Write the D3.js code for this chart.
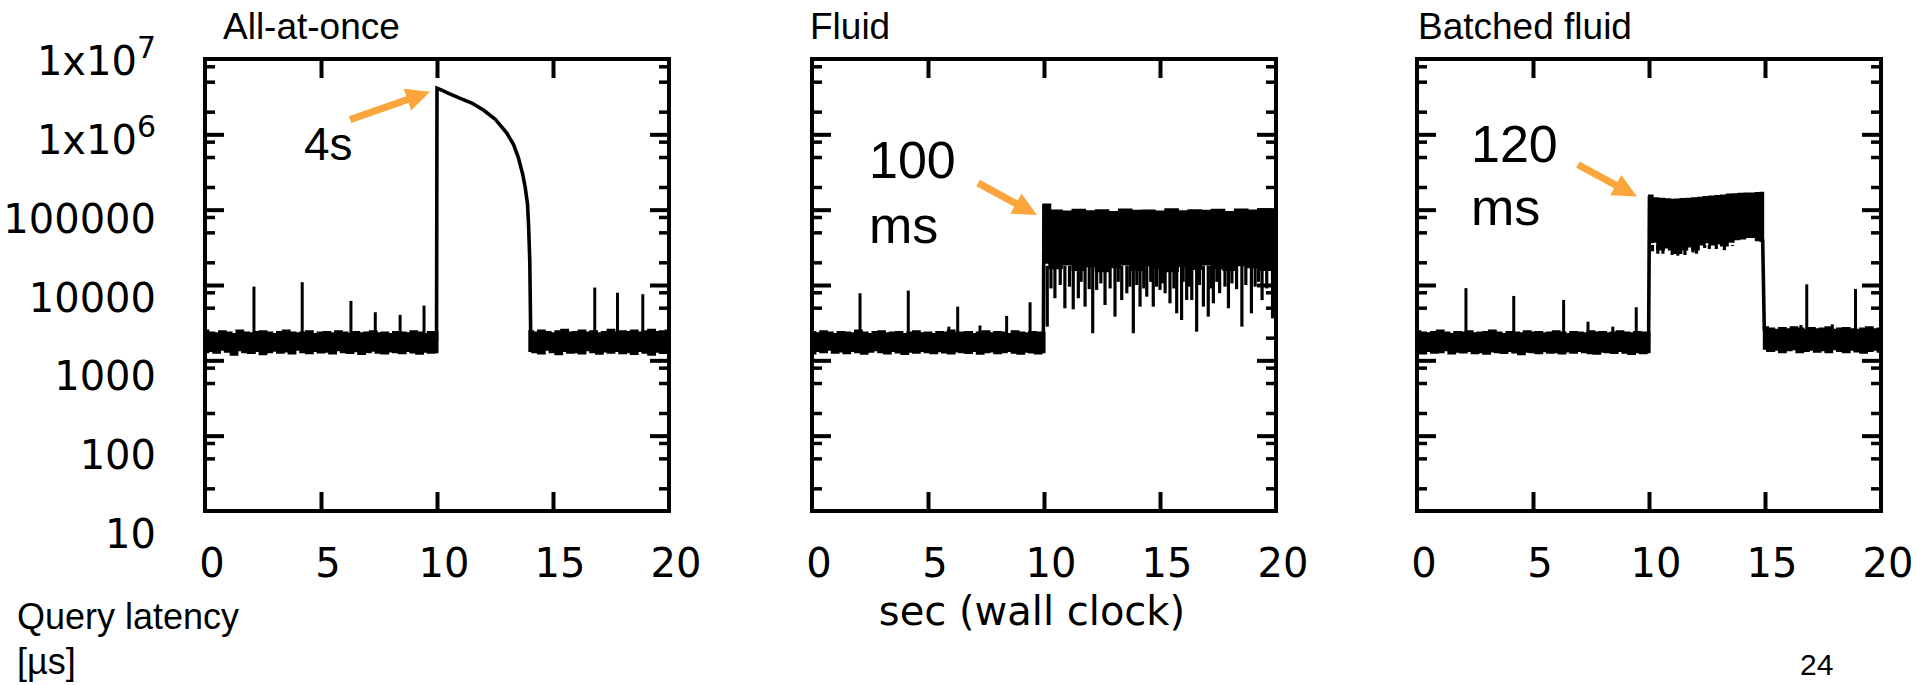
<!DOCTYPE html>
<html>
<head>
<meta charset="utf-8">
<script src="https://cdn.jsdelivr.net/npm/d3@7"></script>
<style>
  body { margin: 0; background: #fff; }
  svg { display: block; }
  .num { font-family: "DejaVu Sans", sans-serif; font-size: 40px; fill: #000; }
  .sans { font-family: "Liberation Sans", Arial, sans-serif; fill: #000; }
</style>
</head>
<body>
<svg id="chart"></svg>
<script>
// ---- data ----
const panelTitles = ['All-at-once', 'Fluid', 'Batched fluid'];
const xTicks = [0, 5, 10, 15, 20];
const yTicks = [10, 100, 1000, 10000, 100000, 1e6, 1e7];
const yMinor = [20, 50, 80, 200, 500, 800, 2000, 5000, 8000, 2e4, 5e4, 8e4, 2e5, 5e5, 8e5, 2e6, 5e6, 8e6];

// time samples of the noisy bands (sec)
const tPre = [0,0.25,0.5,0.75,1,1.25,1.5,1.75,2,2.25,2.5,2.75,3,3.25,3.5,3.75,4,4.25,4.5,4.75,5,5.25,5.5,5.75,6,6.25,6.5,6.75,7,7.25,7.5,7.75,8,8.25,8.5,8.75,9,9.25,9.5,9.75,10];
const tPost1 = [14,14.25,14.5,14.75,15,15.25,15.5,15.75,16,16.25,16.5,16.75,17,17.25,17.5,17.75,18,18.25,18.5,18.75,19,19.25,19.5,19.75,20];
const tHigh2 = [10,10.5,11,11.5,12,12.5,13,13.5,14,14.5,15,15.5,16,16.5,17,17.5,18,18.5,19,19.5,20];
const tHigh3 = [10.02,10.25,10.5,10.75,11,11.25,11.5,11.75,12,12.25,12.5,12.75,13,13.25,13.5,13.75,14,14.25,14.5,14.75,14.9];
const tPost3 = [14.97,15.25,15.5,15.75,16,16.25,16.5,16.75,17,17.25,17.5,17.75,18,18.25,18.5,18.75,19,19.25,19.5,19.75,20];

// All-at-once
const preHi1 = [2450,2300,2250,2400,2300,2200,2450,2300,2250,2350,2400,2300,2200,2350,2450,2300,2250,2300,2400,2200,2300,2350,2250,2400,2300,2200,2350,2250,2300,2400,2250,2300,2200,2350,2300,2250,2400,2300,2200,2350,2300];
const preLo1 = [1300,1350,1280,1400,1320,1200,1380,1300,1270,1350,1220,1300,1360,1280,1330,1250,1400,1300,1260,1350,1290,1320,1250,1380,1300,1270,1340,1230,1300,1360,1280,1250,1330,1300,1260,1350,1290,1240,1320,1280,1300];
const postHi1 = [2400,2300,2450,2350,2250,2400,2500,2300,2350,2450,2300,2400,2250,2350,2500,2300,2400,2350,2450,2300,2400,2500,2350,2400,2450];
const postLo1 = [1350,1300,1250,1400,1300,1220,1350,1280,1300,1250,1380,1300,1240,1330,1280,1350,1260,1300,1230,1350,1280,1200,1320,1270,1300];
const jumpT1 = [9.98,10,10.2,10.5,11,11.5,12,12.5,13,13.3,13.5,13.7,13.8,13.9,13.95,14,14.04];
const jumpV1 = [1800,4.1e6,3.85e6,3.5e6,3.0e6,2.6e6,2.1e6,1.6e6,1.05e6,7.3e5,5.0e5,2.9e5,2.0e5,1.2e5,6e4,2e4,2000];
const spikeT1 = [2.11,4.19,6.29,7.34,8.41,9.44,16.8,17.78,18.87];
const spikeV1 = [9530,10900,6150,4350,4010,5330,9250,7900,7550];

// Fluid
const preHi2 = [2350,2250,2400,2300,2200,2350,2300,2250,2450,2300,2200,2350,2400,2250,2300,2350,2200,2300,2400,2250,2300,2200,2350,2300,2450,2250,2300,2350,2200,2300,2400,2250,2350,2300,2200,2400,2300,2250,2350,2300,2250];
const preLo2 = [1250,1350,1300,1400,1280,1330,1260,1350,1300,1240,1320,1380,1300,1250,1350,1290,1230,1320,1280,1350,1300,1260,1340,1290,1250,1330,1300,1270,1350,1240,1300,1330,1260,1300,1350,1280,1240,1320,1290,1250,1300];
const highHi2 = [115000,96000,93000,98000,94000,97000,92000,99000,95000,96000,93000,100000,94000,97000,95000,98000,92000,99000,96000,100000,97000];
const highLo2 = [20000,17000,19000,16000,18000,15500,17500,19000,16000,18500,17000,15500,18000,16500,19000,17000,16000,18500,17500,16000,18000];
const jumpT2 = [9.97, 10];
const jumpV2 = [1400, 118000];
const spikeT2 = [2.07,4.15,5.9,6.28,7.24,8.39,9.4];
const spikeV2 = [7780,8430,2800,5160,2900,3890,5900];
const dipT2 = [10.14,10.3,10.47,10.7,10.9,11.1,11.26,11.48,11.6,11.77,11.95,12.1,12.27,12.45,12.63,12.85,13.06,13.2,13.35,13.57,13.7,13.85,14.0,14.14,14.3,14.43,14.6,14.71,14.85,15.0,15.1,15.22,15.43,15.6,15.72,15.93,16.0,16.15,16.26,16.37,16.58,16.7,16.87,17.08,17.2,17.3,17.45,17.57,17.8,17.95,18.1,18.3,18.53,18.7,18.94,19.1,19.25,19.4,19.6,19.85,19.95];
const dipV2 = [2800,9000,6670,10000,4910,9500,4760,6670,11000,5160,8800,2290,8600,10500,5430,9000,3800,11000,6310,7760,9500,2290,10000,5160,9000,7000,11000,5160,9500,8600,10500,7760,5710,9000,4210,3430,11000,6310,9500,6310,2400,10000,5160,3800,9000,5710,11000,7800,9500,4910,10500,8800,2800,10000,4210,9500,11000,6300,9000,3600,10000];

// Batched fluid
const preHi3 = [2400,2300,2250,2350,2450,2300,2200,2350,2300,2400,2250,2300,2350,2450,2300,2200,2350,2300,2250,2400,2300,2350,2250,2300,2400,2300,2200,2350,2300,2250,2400,2300,2350,2250,2300,2400,2300,2250,2350,2300,2300];
const preLo3 = [1300,1250,1350,1280,1300,1380,1250,1320,1290,1350,1260,1300,1240,1330,1300,1270,1350,1290,1220,1320,1300,1260,1340,1280,1300,1250,1330,1280,1350,1300,1260,1240,1320,1300,1270,1350,1280,1230,1300,1260,1300];
const highHi3 = [152000,140000,138000,135000,133000,134000,136000,138000,140000,142000,145000,147000,150000,152000,156000,158000,160000,161000,162000,164000,165000];
const highLo3 = [37500,38000,30000,32000,30000,27000,30000,33000,30000,35000,37500,35000,36000,34000,38000,41000,42000,44000,44000,40000,39000];
const postHi3 = [2700,2600,2500,2650,2550,2700,2600,2500,2650,2550,2600,2700,2500,2600,2650,2550,2500,2600,2700,2550,2600];
const postLo3 = [1450,1350,1400,1300,1380,1420,1300,1350,1400,1320,1380,1300,1420,1350,1300,1400,1330,1280,1350,1400,1320];
const jumpT3 = [9.98, 10.02];
const jumpV3 = [1300, 152000];
const dropT3 = [14.9, 14.97];
const dropV3 = [40000, 2500];
const spikeT3 = [2.11,4.17,6.32,7.37,8.44,9.45,16.55,16.8,17.9,18.9];
const spikeV3 = [9080,7160,6340,3260,2800,5070,2950,10200,3000,8870];
const dipT3 = [10.15,10.38,10.6,11.0,11.24,11.55,11.9,12.05,12.4,12.6,12.9,13.25,13.6];
const dipV3 = [28000,26000,26000,25000,24500,25000,27000,26000,31000,30000,30000,29000,33000];

// annotations: label lines, arrow tip (data coords)
const annLines = [['4s'], ['100', 'ms'], ['120', 'ms']];
const annTipT = [9.7, 9.7, 9.48];
const annTipV = [3.68e6, 85000, 149000];

// ---- layout ----
const W = 1917, H = 685;
const panelLeft = [205, 812, 1417];
const plotW = 464, plotTop = 59, plotBottom = 511;
const orange = '#FAA63C';

const svg = d3.select('#chart').attr('width', W).attr('height', H);
svg.append('rect').attr('width', W).attr('height', H).attr('fill', '#fff');

const y = d3.scaleLog().domain([10, 1e7]).range([plotBottom, plotTop]);
const yLab = d3.scaleLog().domain([10, 1e7]).range([548, 75]);

const panels = [
  { bands: [[tPre, preLo1, preHi1], [tPost1, postLo1, postHi1]],
    lines: [[jumpT1, jumpV1]], up: [spikeT1, spikeV1], dips: null, dipBase: 0,
    titleDx: 18, ann: { x: 304, ys: [160], size: 46, tail: [-80, 28] } },
  { bands: [[tPre, preLo2, preHi2], [tHigh2, highLo2, highHi2]],
    lines: [[jumpT2, jumpV2]], up: [spikeT2, spikeV2], dips: [dipT2, dipV2], dipBase: 18000,
    titleDx: -2, ann: { x: 869, ys: [178, 243], size: 52, tail: [-59, -32] } },
  { bands: [[tPre, preLo3, preHi3], [tHigh3, highLo3, highHi3], [tPost3, postLo3, postHi3]],
    lines: [[jumpT3, jumpV3], [dropT3, dropV3]], up: [spikeT3, spikeV3], dips: [dipT3, dipV3], dipBase: 34000,
    titleDx: 1, ann: { x: 1471, ys: [162, 225], size: 52, tail: [-59, -32] } }
];

panels.forEach((p, i) => {
  const left = panelLeft[i];
  const x = d3.scaleLinear().domain([0, 20]).range([left, left + plotW]);
  const g = svg.append('g');

  // noisy bands
  const area = d3.area()
    .x(d => x(d[0])).y0(d => y(d[1])).y1(d => y(d[2]))
    .curve(d3.curveStep);
  p.bands.forEach(b => {
    g.append('path')
      .datum(d3.zip(b[0], b[1], b[2]))
      .attr('d', area)
      .attr('fill', '#000').attr('stroke', '#000').attr('stroke-width', 3)
      .attr('stroke-linejoin', 'miter');
  });

  const line = d3.line().x(d => x(d[0])).y(d => y(d[1]));
  p.lines.forEach(l => {
    g.append('path').datum(d3.zip(l[0], l[1])).attr('d', line)
      .attr('fill', 'none').attr('stroke', '#000').attr('stroke-width', 3.6);
  });

  // spikes up out of the baseline
  d3.zip(p.up[0], p.up[1]).forEach(([t, v]) => {
    g.append('path').attr('d', line([[t, 2200], [t, v]]))
      .attr('stroke', '#000').attr('stroke-width', 3);
  });
  // spikes down out of the high band
  if (p.dips) {
    d3.zip(p.dips[0], p.dips[1]).forEach(([t, v]) => {
      g.append('path').attr('d', line([[t, p.dipBase], [t, v]]))
        .attr('stroke', '#000').attr('stroke-width', 3.2);
    });
  }

  // frame
  g.append('rect').attr('x', left).attr('y', plotTop)
    .attr('width', plotW).attr('height', plotBottom - plotTop)
    .attr('fill', 'none').attr('stroke', '#000').attr('stroke-width', 4);

  const styleTicks = (sel, w) => {
    sel.select('.domain').remove();
    sel.selectAll('line').attr('stroke', '#000').attr('stroke-width', w);
  };
  g.append('g').attr('transform', `translate(${left},0)`)
    .call(d3.axisLeft(y).tickValues(yTicks.slice(1, -1)).tickSize(-19).tickFormat(''))
    .call(s => styleTicks(s, 4));
  g.append('g').attr('transform', `translate(${left + plotW},0)`)
    .call(d3.axisRight(y).tickValues(yTicks.slice(1, -1)).tickSize(-19).tickFormat(''))
    .call(s => styleTicks(s, 4));
  g.append('g').attr('transform', `translate(${left},0)`)
    .call(d3.axisLeft(y).tickValues(yMinor).tickSize(-10).tickFormat(''))
    .call(s => styleTicks(s, 3.5));
  g.append('g').attr('transform', `translate(${left + plotW},0)`)
    .call(d3.axisRight(y).tickValues(yMinor).tickSize(-10).tickFormat(''))
    .call(s => styleTicks(s, 3.5));
  g.append('g').attr('transform', `translate(0,${plotBottom})`)
    .call(d3.axisBottom(x).tickValues([5, 10, 15]).tickSize(-19).tickFormat(''))
    .call(s => styleTicks(s, 4));
  g.append('g').attr('transform', `translate(0,${plotTop})`)
    .call(d3.axisTop(x).tickValues([5, 10, 15]).tickSize(-19).tickFormat(''))
    .call(s => styleTicks(s, 4));

  // x tick labels
  g.selectAll('.xl').data(xTicks).join('text')
    .attr('class', 'num')
    .attr('x', d => x(d) + 7).attr('y', 577)
    .attr('text-anchor', 'middle')
    .text(d => d);

  // title
  g.append('text').attr('class', 'sans')
    .attr('x', left + p.titleDx).attr('y', 39)
    .attr('font-size', 37)
    .text(panelTitles[i]);

  // annotation + arrow
  const a = p.ann;
  annLines[i].forEach((s, k) => {
    g.append('text').attr('class', 'sans')
      .attr('x', a.x).attr('y', a.ys[k])
      .attr('font-size', a.size).text(s);
  });
  const tip = [x(annTipT[i]), y(annTipV[i])];
  const tail = [tip[0] + a.tail[0], tip[1] + a.tail[1]];
  const dx = tip[0] - tail[0], dy = tip[1] - tail[1];
  const len = Math.hypot(dx, dy);
  const ux = dx / len, uy = dy / len, nx = -uy, ny = ux;
  const hl = 24, hw = 11.5, sw = 3.6;
  const bx = tip[0] - ux * hl, by = tip[1] - uy * hl;
  const pts = [
    [tail[0] + nx * sw, tail[1] + ny * sw],
    [bx + nx * sw, by + ny * sw],
    [bx + nx * hw, by + ny * hw],
    tip,
    [bx - nx * hw, by - ny * hw],
    [bx - nx * sw, by - ny * sw],
    [tail[0] - nx * sw, tail[1] - ny * sw]
  ];
  g.append('polygon').attr('points', pts.map(q => q.join(',')).join(' '))
    .attr('fill', orange);
});

// y tick labels (left panel only)
const yl = svg.selectAll('.yl').data(yTicks).join('text')
  .attr('class', 'num')
  .attr('x', 156).attr('y', d => yLab(d))
  .attr('text-anchor', 'end');
yl.each(function(d) {
  const t = d3.select(this);
  if (d >= 1e6) {
    t.append('tspan').text('1x10');
    t.append('tspan').attr('dy', -17).attr('font-size', 30).text(Math.round(Math.log10(d)));
  } else {
    t.text(d);
  }
});

// axis captions
svg.append('text').attr('class', 'num')
  .attr('x', 1032).attr('y', 625).attr('text-anchor', 'middle')
  .text('sec (wall clock)');
svg.append('text').attr('class', 'sans').attr('font-size', 36)
  .attr('x', 17).attr('y', 629).text('Query latency');
svg.append('text').attr('class', 'sans').attr('font-size', 36)
  .attr('x', 17).attr('y', 674).text('[µs]');
svg.append('text').attr('class', 'sans').attr('font-size', 30)
  .attr('x', 1800).attr('y', 675).text('24');
</script>
</body>
</html>
